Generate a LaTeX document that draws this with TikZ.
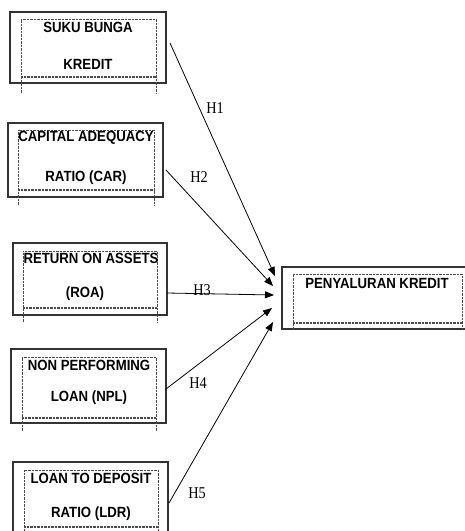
\documentclass[tikz,border=0pt]{standalone}
\usepackage{fontspec}
\setmainfont{Liberation Serif}
\newfontfamily\boxfont{Liberation Sans}
\usetikzlibrary{arrows.meta}
\newcommand\innerdeco[5]{%
  \draw[innerline] (#1,#5) -- (#1,#3) -- (#2,#3) -- (#2,#5);
  \draw[innerline] (#1,#4) -- (#2,#4);
  \draw[innerline] (#1,#4+1.5) -- (#2,#4+1.5);}
\newcommand\bt[1]{\scalebox{1}[1.12]{#1}}
\newcommand\hl[1]{\scalebox{0.95}[1.1]{#1}}
\begin{document}
\begin{tikzpicture}[x=1pt,y=-1pt,
  outerbox/.style={draw=black!80, line width=1.3pt, rectangle, inner sep=0pt},
  innerline/.style={draw=black!70, line width=0.6pt, dash pattern=on 0.6pt off 0.8pt},
  boxtext/.style={font=\boxfont\fontsize{13.2}{13}\selectfont\bfseries, inner sep=0pt, anchor=center},
  hlabel/.style={font=\fontsize{15}{15}\selectfont, inner sep=0pt, anchor=center},
  conn/.style={draw=black, line width=0.8pt, -{Triangle[length=9pt,width=7pt]}}]
\useasboundingbox (0,0) rectangle (465,531);
\clip (0,0) rectangle (465,531);
\fill[white] (0,0) rectangle (465,531);
% outer boxes
\node[outerbox, minimum width=156pt, minimum height=71pt] (b1) at (88,47.5) {};
\node[outerbox, minimum width=155pt, minimum height=74pt] (b2) at (85.5,160) {};
\node[outerbox, minimum width=154pt, minimum height=72pt] (b3) at (90,279) {};
\node[outerbox, minimum width=155pt, minimum height=74pt] (b4) at (88.5,386) {};
\node[outerbox, minimum width=155pt, minimum height=78pt] (b5) at (90.5,501) {};
\node[outerbox, minimum width=188pt, minimum height=62pt] (bt) at (376,298) {};
% inner dotted frames
\innerdeco{21}{156}{19}{76}{93}
\innerdeco{18}{154}{130}{189}{205}
\innerdeco{23}{157}{251}{307}{322}
\innerdeco{22}{156}{357}{417}{431}
\innerdeco{24}{158}{470}{526}{535}
\innerdeco{293}{462}{274}{322}{330}
% texts
\node[boxtext] (t1a) at (88,27.5) {\bt{SUKU BUNGA}};
\node[boxtext] (t1b) at (88,64) {\bt{KREDIT}};
\node[boxtext] (t2a) at (86,138) {\bt{CAPITAL ADEQUACY}};
\node[boxtext] (t2b) at (86,177.5) {\bt{RATIO (CAR)}};
\node[boxtext] (t3a) at (91,258) {\bt{RETURN ON ASSETS}};
\node[boxtext] (t3b) at (85,294) {\bt{(ROA)}};
\node[boxtext] (t4a) at (89,365.5) {\bt{NON PERFORMING}};
\node[boxtext] (t4b) at (89,397.5) {\bt{LOAN (NPL)}};
\node[boxtext] (t5a) at (91,478.5) {\bt{LOAN TO DEPOSIT}};
\node[boxtext] (t5b) at (91,514) {\bt{RATIO (LDR)}};
\node[boxtext] (tt) at (377,283) {\bt{PENYALURAN KREDIT}};
% connector ends
\coordinate (s1) at (170,43);
\coordinate (s2) at (166,170);
\coordinate (s3) at (167,293);
\coordinate (s4) at (166,389);
\coordinate (s5) at (169,503);
\coordinate (e1) at (275,276);
\coordinate (e2) at (273,286);
\coordinate (e3) at (274,295);
\coordinate (e4) at (272,308);
\coordinate (e5) at (273,322);
\draw[conn] (s1) -- (e1);
\draw[conn] (s2) -- (e2);
\draw[conn] (s3) -- (e3);
\draw[conn] (s4) -- (e4);
\draw[conn] (s5) -- (e5);
% labels
\node[hlabel] (h1) at (215,108) {\hl{H1}};
\node[hlabel] (h2) at (199,177) {\hl{H2}};
\node[hlabel] (h3) at (202,290) {\hl{H3}};
\node[hlabel] (h4) at (198,383) {\hl{H4}};
\node[hlabel] (h5) at (197,493) {\hl{H5}};
\end{tikzpicture}
\end{document}
